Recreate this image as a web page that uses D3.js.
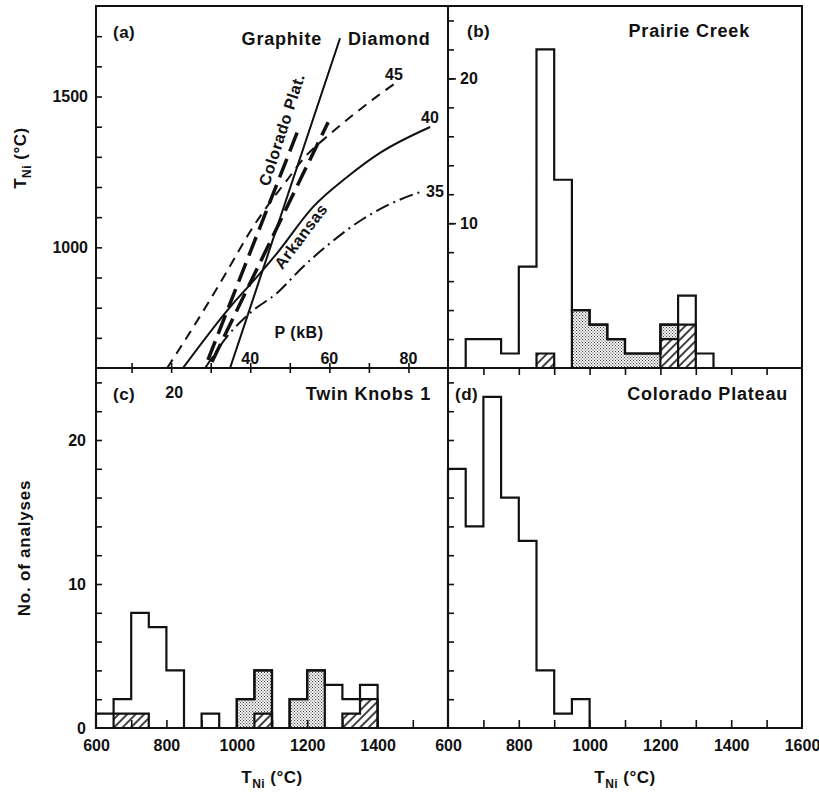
<!DOCTYPE html>
<html><head><meta charset="utf-8">
<script src="https://cdn.jsdelivr.net/npm/d3@7"></script>
<style>
body{margin:0;background:#fff}
svg{display:block}
text{font-family:"Liberation Sans",Arial,sans-serif;font-weight:bold;fill:#111}
</style></head>
<body><svg id="c" width="819" height="794"></svg>
<script>
// ---------------- DATA ----------------
const binWidth = 50;
// (b) Prairie Creek
const prairieBins    = [600,650,700,750,800,850,900,950,1000,1050,1100,1150,1200,1250,1300,1350];
const prairieTotal   = [0,2,2,1,7,22,13,4,3,2,1,1,3,5,1,0];
const prairieStipple = [0,0,0,0,0,0,0,4,3,2,1,1,3,0,0,0];
const prairieHatch   = [0,0,0,0,0,1,0,0,0,0,0,0,2,3,0,0];
// (c) Twin Knobs 1
const twinBins    = [600,650,700,750,800,850,900,950,1000,1050,1100,1150,1200,1250,1300,1350];
const twinTotal   = [1,2,8,7,4,0,1,0,2,4,0,2,4,3,2,3];
const twinStipple = [0,0,0,0,0,0,0,0,2,4,0,2,4,0,0,0];
const twinHatch   = [0,1,1,0,0,0,0,0,0,1,0,0,0,0,1,2];
// (d) Colorado Plateau
const coloBins  = [600,650,700,750,800,850,900,950];
const coloTotal = [18,14,23,16,13,4,1,2];
// (a) P (kB) vs T (°C) curves
const gdP = [34.9, 62.7];           const gdT = [600, 1693];   // graphite–diamond
const geo45P = [19, 24.8, 29.8, 34.9, 39.9, 44.5, 49.3, 53.8, 60.2, 66, 71.8, 77.1];
const geo45T = [600, 719, 825, 938, 1051, 1140, 1223, 1299, 1376, 1439, 1498, 1548];
const geo40P = [23, 34.9, 41.7, 46.8, 55.9, 64.5, 72.8, 85.5];
const geo40T = [600, 802, 902, 981, 1134, 1233, 1313, 1399];
const geo35P = [28.6, 34.9, 39.9, 46.8, 53.3, 60.2, 68.5, 77.1, 82.9];
const geo35T = [600, 716, 782, 849, 935, 1014, 1094, 1154, 1183];
const coloPlatP = [29.3, 52.3];     const coloPlatT = [627, 1395];
const arkP = [30.3, 59.7];          const arkT = [620, 1415];
// tick labels
const tempTicksLeft  = [600, 800, 1000, 1200, 1400];
const tempTicksRight = [600, 800, 1000, 1200, 1400, 1600];
const countTicks = [0, 10, 20];
const tniTicks = [1000, 1500];
const pTickLabels = [40, 60, 80];

// ---------------- LAYOUT ----------------
const L=96, M=448, R=802, T=6, MY=368, B=728;
const svg = d3.select("#c");
const defs = svg.append("defs");
const st = defs.append("pattern").attr("id","stip").attr("width",3).attr("height",3).attr("patternUnits","userSpaceOnUse");
st.append("rect").attr("width",3).attr("height",3).attr("fill","#fff");
st.append("rect").attr("x",0).attr("y",0).attr("width",1.1).attr("height",1.1).attr("fill","#444");
st.append("rect").attr("x",1.5).attr("y",1.5).attr("width",1.1).attr("height",1.1).attr("fill","#444");
const ht = defs.append("pattern").attr("id","hatch").attr("width",6).attr("height",6)
  .attr("patternUnits","userSpaceOnUse").attr("patternTransform","rotate(45)");
ht.append("rect").attr("width",6).attr("height",6).attr("fill","#fff");
ht.append("line").attr("x1",1).attr("y1",0).attr("x2",1).attr("y2",6).attr("stroke","#111").attr("stroke-width",1.6);
defs.append("clipPath").attr("id","clipA").append("rect").attr("x",L).attr("y",T).attr("width",M-L).attr("height",MY-T);

const xLeftT  = d3.scaleLinear().domain([600,1600]).range([L,M]);
const xRightT = d3.scaleLinear().domain([600,1600]).range([M,R]);
const yTop = d3.scaleLinear().domain([0,25]).range([MY,T]);
const yBot = d3.scaleLinear().domain([0,25]).range([B,MY]);
const pScale = d3.scaleLinear().domain([1,90]).range([L,M]);
const tScale = d3.scaleLinear().domain([600,1800]).range([MY,T]);

// ---------------- HISTOGRAMS ----------------
function stepPts(bins, vals){
  const pts = bins.map((b,i)=>({t:b, v:vals[i]}));
  pts.push({t:bins[bins.length-1]+binWidth, v:vals[vals.length-1]});
  return pts;
}
function histo(x, y, bins, total, stip, hatch){
  const g = svg.append("g");
  const area = d3.area().curve(d3.curveStepAfter).x(d=>x(d.t)).y0(y(0)).y1(d=>y(d.v));
  g.append("path").attr("d", area(stepPts(bins,total))).attr("fill","#fff").attr("stroke","none");
  if(stip) g.append("path").attr("d", area(stepPts(bins,stip))).attr("fill","url(#stip)").attr("stroke","none");
  if(hatch) g.append("path").attr("d", area(stepPts(bins,hatch))).attr("fill","url(#hatch)").attr("stroke","none");
  const s = p => p.attr("fill","none").attr("stroke","#111").attr("stroke-width",2.2).attr("stroke-linejoin","miter");
  if(stip) s(g.append("path").attr("d", area(stepPts(bins,stip))));
  if(hatch) s(g.append("path").attr("d", area(stepPts(bins,hatch))));
  s(g.append("path").attr("d", area(stepPts(bins,total))));
}
histo(xRightT, yTop, prairieBins, prairieTotal, prairieStipple, prairieHatch);
histo(xLeftT, yBot, twinBins, twinTotal, twinStipple, twinHatch);
histo(xRightT, yBot, coloBins, coloTotal, null, null);

// ---------------- PANEL (a) CURVES ----------------
const ga = svg.append("g").attr("clip-path","url(#clipA)");
const line = d3.line().x(d=>pScale(d[0])).y(d=>tScale(d[1])).curve(d3.curveMonotoneX);
const zipPT = (P,Tv)=>P.map((p,i)=>[p,Tv[i]]);
function curve(P,Tv,w,dash){
  ga.append("path").attr("d",line(zipPT(P,Tv))).attr("fill","none").attr("stroke","#111")
    .attr("stroke-width",w).attr("stroke-dasharray",dash||null).attr("stroke-linecap","butt");
}
curve(gdP, gdT, 2);
curve(geo45P, geo45T, 2, "10,7");
curve(geo40P, geo40T, 2);
curve(geo35P, geo35T, 2, "14,5,2,5");
curve(coloPlatP, coloPlatT, 3.5, "20,8");
curve(arkP, arkT, 3.5, "20,8");

// ---------------- FRAME ----------------
const fr = svg.append("g").attr("stroke","#111").attr("stroke-width",2).attr("fill","none");
fr.append("rect").attr("x",L).attr("y",T).attr("width",R-L).attr("height",B-T);
fr.append("line").attr("x1",M).attr("x2",M).attr("y1",T).attr("y2",B);
fr.append("line").attr("x1",L).attr("x2",R).attr("y1",MY).attr("y2",MY);

// ---------------- AXES ----------------
function clean(g, fs){
  g.select(".domain").remove();
  g.selectAll("line").attr("stroke","#111").attr("stroke-width",1.6);
  g.attr("font-family",null).attr("font-size",null);
  g.selectAll("text").attr("font-size",fs||16).attr("fill","#111");
  return g;
}
// (a) left T ticks
clean(svg.append("g").attr("transform",`translate(${L},0)`)
  .call(d3.axisRight(tScale).tickValues(d3.range(700,1701,100)).tickSize(6).tickFormat("")));
clean(svg.append("g").attr("transform",`translate(${L},0)`)
  .call(d3.axisLeft(tScale).tickValues(tniTicks).tickSize(0).tickPadding(8).tickFormat(d3.format("d"))));
// P ticks crossing divider
clean(svg.append("g").attr("transform",`translate(0,${MY-5})`)
  .call(d3.axisBottom(pScale).tickValues(d3.range(10,81,10)).tickSize(10).tickFormat("")));
// P labels
svg.append("g").selectAll("text").data(pTickLabels).join("text")
  .attr("x",d=>pScale(d)).attr("y",MY-4).attr("text-anchor","middle").attr("font-size",16).text(d=>d);
svg.append("text").attr("x",pScale(20)+3).attr("y",MY+30).attr("text-anchor","middle").attr("font-size",16).text("20");

// count ticks (b), (c), (d)
[[M,yTop],[L,yBot],[M,yBot]].forEach(([x0,ys])=>{
  clean(svg.append("g").attr("transform",`translate(${x0},0)`)
    .call(d3.axisRight(ys).tickValues(d3.range(2,25,2)).tickSize(6).tickFormat("")));
});
// (c) count labels (outside left)
clean(svg.append("g").attr("transform",`translate(${L},0)`)
  .call(d3.axisLeft(yBot).tickValues(countTicks).tickSize(0).tickPadding(10).tickFormat(d3.format("d"))));
// (b) count labels (inside)
clean(svg.append("g").attr("transform",`translate(${M},0)`)
  .call(d3.axisRight(yTop).tickValues([10,20]).tickSize(8).tickPadding(4).tickFormat(d3.format("d"))));
// bottom T ticks (inward)
[[xLeftT],[xRightT]].forEach(([xs])=>{
  clean(svg.append("g").attr("transform",`translate(0,${B})`)
    .call(d3.axisTop(xs).tickValues(d3.range(700,1600,100)).tickSize(8).tickFormat("")));
});
// top of (d) ticks
clean(svg.append("g").attr("transform",`translate(0,${MY})`)
  .call(d3.axisBottom(xRightT).tickValues(d3.range(700,1600,100)).tickSize(7).tickFormat("")));
// bottom tick labels
clean(svg.append("g").attr("transform",`translate(0,${B})`)
  .call(d3.axisBottom(xLeftT).tickValues(tempTicksLeft).tickSize(0).tickPadding(12).tickFormat(d3.format("d"))));
clean(svg.append("g").attr("transform",`translate(0,${B})`)
  .call(d3.axisBottom(xRightT).tickValues(tempTicksRight).tickSize(0).tickPadding(12).tickFormat(d3.format("d"))));

// ---------------- TEXT ----------------
function txt(x,y,s,opt={}){
  const t = svg.append("text").attr("x",x).attr("y",y).attr("font-size",opt.fs||18)
    .attr("text-anchor",opt.anchor||"start").attr("letter-spacing",opt.ls==null?0.8:opt.ls).text(s);
  if(opt.rot!=null) t.attr("transform",`rotate(${opt.rot},${x},${y})`).attr("dominant-baseline","middle");
  return t;
}
txt(113,38,"(a)",{fs:17,ls:0.5});
txt(322,45,"Graphite",{anchor:"end"});
txt(348,45,"Diamond");
txt(394,80,"45",{fs:16,anchor:"middle",ls:0});
txt(430,123,"40",{fs:16,anchor:"middle",ls:0});
txt(435,197,"35",{fs:16,anchor:"middle",ls:0});
txt(299,338,"P (kB)",{fs:16,anchor:"middle",ls:0.5});
txt(283,130,"Colorado Plat.",{fs:16,anchor:"middle",rot:-72,ls:0.6});
txt(302,237,"Arkansas",{fs:16,anchor:"middle",rot:-53,ls:0.6});
txt(467,37,"(b)",{fs:17,ls:0.5});
txt(750,37,"Prairie Creek",{anchor:"end"});
txt(113,400,"(c)",{fs:17,ls:0.5});
txt(431,400,"Twin Knobs 1",{anchor:"end"});
txt(455,400,"(d)",{fs:17,ls:0.5});
txt(788,400,"Colorado Plateau",{anchor:"end"});

function tni(x,y,rot){
  const t = svg.append("text").attr("x",x).attr("y",y).attr("font-size",17).attr("text-anchor","middle").attr("letter-spacing",0.5);
  if(rot) t.attr("transform",`rotate(${rot},${x},${y})`);
  t.append("tspan").text("T");
  t.append("tspan").attr("font-size",12).attr("dy",5).text("Ni");
  t.append("tspan").attr("dy",-5).text(" (°C)");
}
tni(272,783);
tni(625,783);
tni(26,158,-90);
svg.append("text").attr("x",30).attr("y",548).attr("font-size",17).attr("text-anchor","middle")
  .attr("letter-spacing",0.8).attr("transform","rotate(-90,30,548)").text("No. of analyses");
</script></body></html>
